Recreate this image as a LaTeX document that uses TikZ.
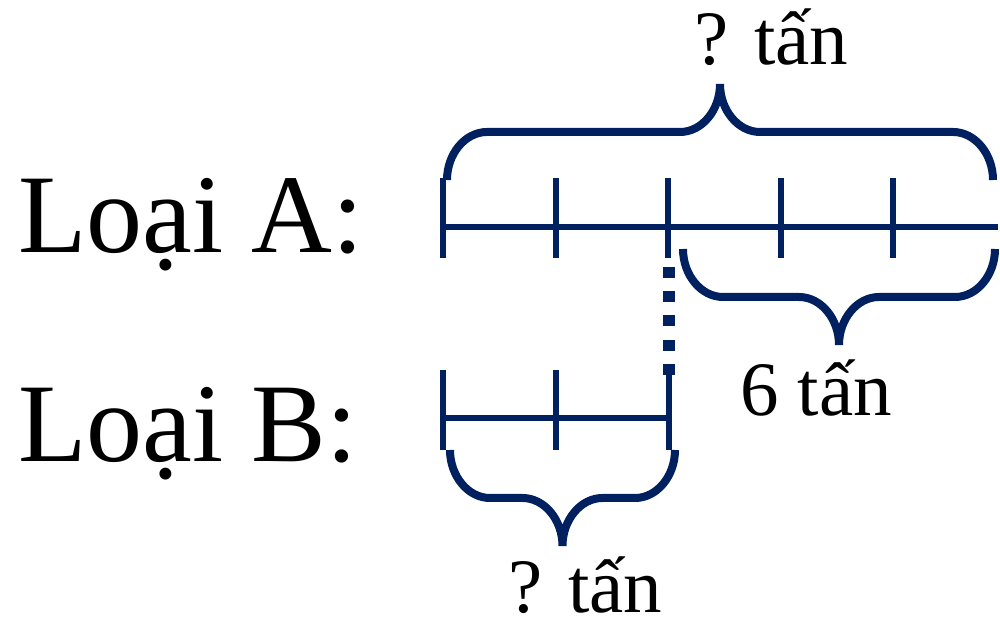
\documentclass[tikz,border=0pt]{standalone}
\usepackage{fontspec}
\setmainfont{Liberation Serif}
\usetikzlibrary{calc}
\definecolor{navy}{RGB}{0,32,96}
\begin{document}
\begin{tikzpicture}[x=1pt,y=1pt,
seg/.style={draw=navy,line width=6pt},
dots/.style={draw=navy,line width=12pt,dash pattern=on 11pt off 13.25pt},
brc/.style={draw=navy,line width=8pt,to path={let \p1=(\tikztostart),\p2=(\tikztotarget),\n1={(\x1+\x2)/2} in
 .. controls +(0,26*#1) and +(-22,0) .. (\x1+40,\y1+48*#1) -- (\n1-40,\y1+48*#1)
 .. controls +(22,0) and +(0,-26*#1) .. (\n1,\y1+96*#1)
 .. controls +(0,-26*#1) and +(-22,0) .. (\n1+40,\y1+48*#1) -- (\x2-40,\y2+48*#1)
 .. controls +(22,0) and +(0,26*#1) .. (\tikztotarget)}},
big/.style={inner sep=0pt,anchor=base west,font=\fontsize{112}{112}\selectfont},
lbl/.style={inner sep=0pt,anchor=base west,font=\fontsize{77}{77}\selectfont}]
\useasboundingbox (0,0) rectangle (1000,623);
\node[big] at (18,370)(laba){Loại A:};
\node[big] at (18,161)(labb){Loại B:};
\coordinate (a0) at (443,396);\coordinate (a5) at (998,396);
\coordinate (b0) at (443,205);\coordinate (b2) at (669,205);
\draw[seg](a0)--(a5);\draw[seg](b0)--(b2);
\draw[seg](443,445)--(443,365);\draw[seg](556,445)--(556,365);\draw[seg](668,445)--(668,365);
\draw[seg](781,445)--(781,365);\draw[seg](893,445)--(893,365);
\draw[seg](443,253)--(443,173);\draw[seg](556,253)--(556,173);\draw[seg](669,253)--(669,173);
\draw[dots](669,356)--(669,248);
\coordinate (ta) at (447,443);\coordinate (tb) at (993,443);
\coordinate (sa) at (683,374);\coordinate (sb) at (995,374);
\coordinate (ua) at (450,173);\coordinate (ub) at (675,173);
\draw[brc=1](ta) to (tb);
\draw[brc=-1](sa) to (sb);
\draw[brc=-1](ua) to (ub);
\node[lbl] at (694,558)(qa){? tấn};
\node[lbl] at (740,207)(six){6 tấn};
\node[lbl] at (508,10)(qb){? tấn};
\end{tikzpicture}
\end{document}
